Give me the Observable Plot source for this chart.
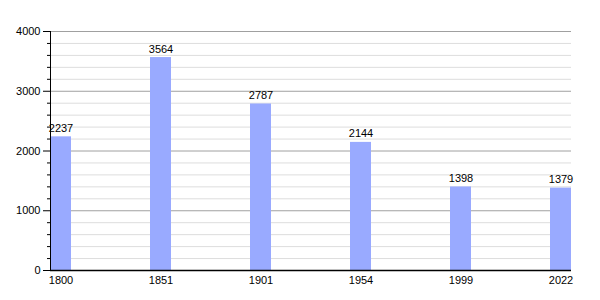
<!DOCTYPE html>
<html>
<head>
<meta charset="utf-8">
<script src="https://cdn.jsdelivr.net/npm/d3@7"></script>
<script src="https://cdn.jsdelivr.net/npm/@observablehq/plot@0.6"></script>
<style>
  body { margin: 0; background: #fff; }
</style>
</head>
<body>
<div id="chart"></div>
<script>
const years = ["1800", "1851", "1901", "1954", "1999", "2022"];
const population = [2237, 3564, 2787, 2144, 1398, 1379];
const majorTicks = [0, 1000, 2000, 3000, 4000];
const minorTicks = d3.range(0, 4001, 200).filter(v => v % 1000 !== 0);

const data = years.map((y, i) => ({year: y, pop: population[i]}));

const chart = Plot.plot({
  width: 600,
  height: 300,
  marginLeft: 50,
  marginRight: 29,
  marginTop: 31,
  marginBottom: 30,
  style: {fontFamily: "Liberation Sans, Arial, sans-serif", fontSize: "11px", color: "#000", background: "#fff"},
  x: {domain: years, paddingInner: 0.79, paddingOuter: 0, align: 0, label: null},
  y: {domain: [0, 4000], label: null},
  marks: [
    Plot.ruleY(minorTicks, {stroke: "#dddddd", strokeWidth: 1}),
    Plot.ruleY(majorTicks.filter(d => d > 0), {stroke: "#a0a0a0", strokeWidth: 1}),
    Plot.barY(data, {x: "year", y: "pop", fill: "#99aaff"}),
    Plot.text(data, {x: "year", y: "pop", text: d => String(d.pop), lineAnchor: "bottom", dy: -5, fill: "#000"}),
    Plot.axisY({ticks: minorTicks, tickSize: 3, tickFormat: () => "", stroke: "#000", strokeWidth: 1}),
    Plot.axisY({ticks: majorTicks, tickSize: 7, tickPadding: 3, tickFormat: d => String(d), stroke: "#000", fill: "#000", strokeWidth: 1}),
    Plot.axisX({tickSize: 0, tickPadding: 6, fill: "#000"}),
    Plot.frame({anchor: "left", stroke: "#000"}),
    Plot.ruleY([0], {stroke: "#000", strokeWidth: 1.5})
  ]
});
document.getElementById("chart").appendChild(chart);
</script>
</body>
</html>
